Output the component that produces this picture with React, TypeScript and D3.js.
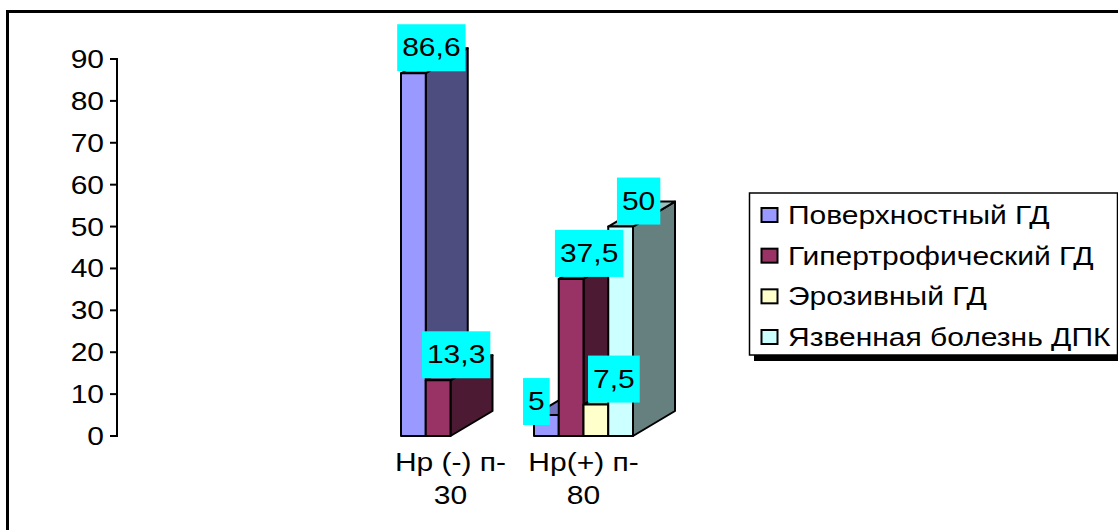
import { useEffect, useRef } from "react";
import * as d3 from "d3";

const categories = ["Hp (-) п-30", "Hp(+) п-80"];
const categoryLines = [["Hp (-) п-", "30"], ["Hp(+) п-", "80"]];
const seriesNames = ["Поверхностный ГД", "Гипертрофический ГД", "Эрозивный ГД", "Язвенная болезнь ДПК"];
const seriesColors = ["#9999ff", "#993366", "#ffffcc", "#ccffff"];
const negativeValues = [86.6, 13.3, null, null];
const positiveValues = [5, 37.5, 7.5, 50];
const valueLabels = [["86,6", "13,3", "", ""], ["5", "37,5", "7,5", "50"]];
const yTicks = [0, 10, 20, 30, 40, 50, 60, 70, 80, 90];

const WIDTH = 1118;
const HEIGHT = 530;
const FONT = "'Liberation Sans', Arial, sans-serif";
const FONT_SIZE = 25;
const STRETCH = 1.2; // the source image was stretched sideways
const DEPTH = { x: 42, y: -25 };

// Excel-style shading of the 3D faces
const shade = (color: string, k: number) => {
  const c = d3.rgb(color);
  return d3.rgb(c.r * k, c.g * k, c.b * k).formatHex();
};

export default function App() {
  const svgRef = useRef<SVGSVGElement>(null);

  useEffect(() => {
    const svg = d3.select(svgRef.current!);
    svg.selectAll("*").remove();

    const y = d3.scaleLinear().domain([0, 90]).range([436, 59]);
    const x0 = d3.scaleBand<string>().domain(categories).range([384, 650]);
    const x1 = d3
      .scaleBand<string>()
      .domain(seriesNames)
      .range([x0.bandwidth() / 2 - 49.5, x0.bandwidth() / 2 + 49.5]);

    const addText = (
      parent: d3.Selection<any, any, any, any>,
      tx: number,
      ty: number,
      str: string,
      anchor: string
    ) =>
      parent
        .append("text")
        .attr("transform", `translate(${tx},${ty}) scale(${STRETCH},1)`)
        .attr("text-anchor", anchor)
        .attr("font-family", FONT)
        .attr("font-size", FONT_SIZE)
        .attr("fill", "#000")
        .text(str);

    // Outer frame
    svg
      .append("rect")
      .attr("x", 7.5)
      .attr("y", 11.5)
      .attr("width", WIDTH)
      .attr("height", HEIGHT)
      .attr("fill", "#fff")
      .attr("stroke", "#000")
      .attr("stroke-width", 3);

    // Y axis
    const axis = svg.append("g").attr("stroke", "#000").attr("stroke-width", 2);
    axis.append("line").attr("x1", 117).attr("x2", 117).attr("y1", y(90) - 1).attr("y2", y(0) + 1);
    yTicks.forEach((t) => {
      axis.append("line").attr("x1", 110).attr("x2", 117).attr("y1", y(t)).attr("y2", y(t));
      addText(svg, 104, y(t) + 9, String(t), "end");
    });

    // Bars
    const rows = [negativeValues, positiveValues];
    const bars = svg.append("g").attr("stroke", "#000").attr("stroke-width", 2).attr("stroke-linejoin", "round");
    rows.forEach((row, c) => {
      const gx = x0(categories[c])!;
      row.forEach((v, s) => {
        if (v === null) return;
        const left = gx + x1(seriesNames[s])!;
        const right = left + x1.bandwidth();
        const top = y(v);
        const bottom = y(0);
        const color = seriesColors[s];
        const poly = (pts: [number, number][], fill: string) =>
          bars.append("path").attr("d", d3.line()(pts)! + "Z").attr("fill", fill);
        poly(
          [
            [right, bottom],
            [right + DEPTH.x, bottom + DEPTH.y],
            [right + DEPTH.x, top + DEPTH.y],
            [right, top],
          ],
          shade(color, 0.5)
        );
        poly(
          [
            [left, top],
            [left + DEPTH.x, top + DEPTH.y],
            [right + DEPTH.x, top + DEPTH.y],
            [right, top],
          ],
          shade(color, 0.75)
        );
        poly(
          [
            [left, bottom],
            [left, top],
            [right, top],
            [right, bottom],
          ],
          color
        );
      });
    });

    // Value labels on cyan boxes
    rows.forEach((row, c) => {
      const gx = x0(categories[c])!;
      row.forEach((v, s) => {
        if (v === null) return;
        const str = valueLabels[c][s];
        const textW = (str.replace(",", "").length * 0.556 + (str.includes(",") ? 0.278 : 0)) * FONT_SIZE * STRETCH;
        const boxW = textW + 10;
        // the "5" label was dragged off its bar in the source
        const moved = c === 1 && s === 0;
        const cx = gx + x1(seriesNames[s])! + x1.bandwidth() / 2 + (moved ? -10 : 18);
        const bottom = y(v) + (moved ? 10 : -2);
        svg
          .append("rect")
          .attr("x", cx - boxW / 2)
          .attr("y", bottom - 47)
          .attr("width", boxW)
          .attr("height", 47)
          .attr("fill", "#00ffff");
        addText(svg, cx, bottom - 15, str, "middle");
      });
    });

    // Category labels
    categoryLines.forEach((lines, c) => {
      const cx = x0(categories[c])! + x0.bandwidth() / 2;
      lines.forEach((line, i) => addText(svg, cx, 471 + i * 33, line, "middle"));
    });

    // Legend
    const legend = svg.append("g");
    legend.append("rect").attr("x", 754).attr("y", 198).attr("width", 364).attr("height", 163).attr("fill", "#000");
    legend
      .append("rect")
      .attr("x", 749.5)
      .attr("y", 193)
      .attr("width", 368)
      .attr("height", 162)
      .attr("fill", "#fff")
      .attr("stroke", "#000")
      .attr("stroke-width", 1.5);
    const legendY = d3.scalePoint<string>().domain(seriesNames).range([215, 337]);
    seriesNames.forEach((name, s) => {
      legend
        .append("rect")
        .attr("x", 761.5)
        .attr("y", legendY(name)! - 7)
        .attr("width", 16)
        .attr("height", 14)
        .attr("fill", seriesColors[s])
        .attr("stroke", "#000")
        .attr("stroke-width", 2);
      addText(legend, 788, legendY(name)! + 9, name, "start");
    });
  }, []);

  return (
    <svg
      ref={svgRef}
      width={WIDTH}
      height={HEIGHT}
      style={{ position: "absolute", left: 0, top: 0, display: "block" }}
    />
  );
}
